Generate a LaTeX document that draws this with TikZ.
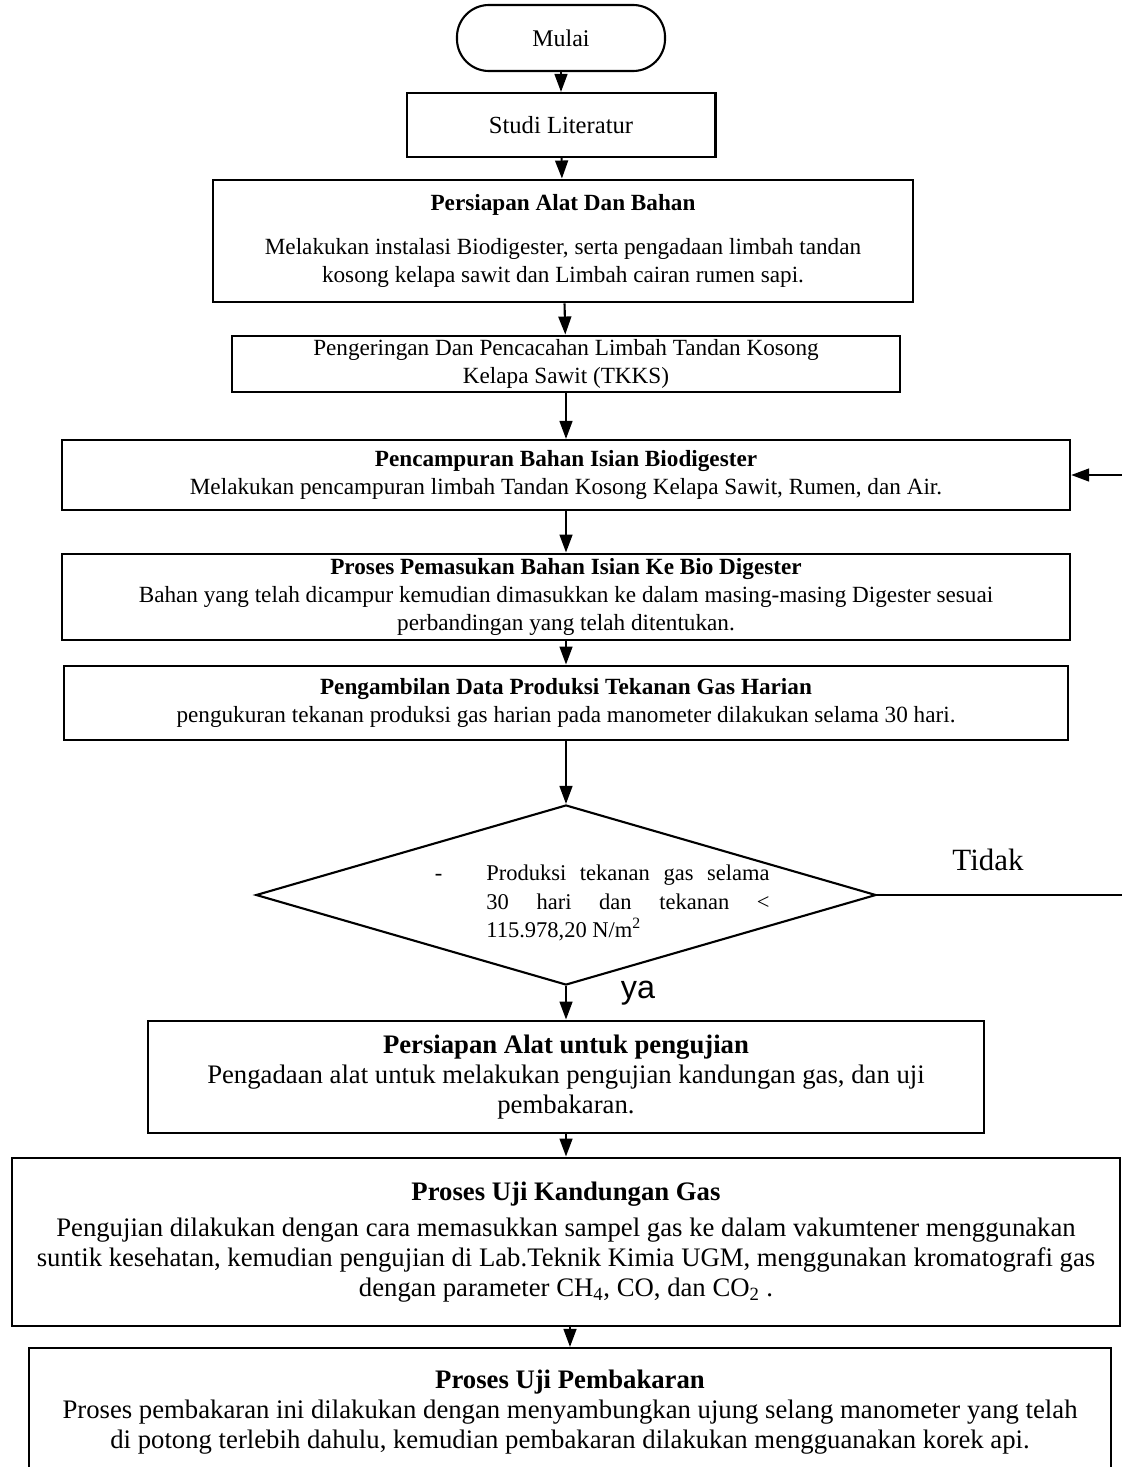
\documentclass[tikz,border=0pt]{standalone}
\usepackage{fontspec}
\setmainfont{Liberation Serif}
\newfontfamily\yafont{Liberation Sans}
\usetikzlibrary{shapes.geometric,arrows.meta,positioning}
\newcommand{\teksatas}{\fontsize{16.5}{20}\selectfont}
\newcommand{\teksbawah}{\fontsize{19}{21.5}\selectfont}
\tikzset{
   every path/.style={>={Triangle[length=4.5mm,width=3.2mm]}},
   flow/.style={->,line width=1.5pt},
   terminal/.style={draw,line width=1.5pt,rounded corners=0.8cm,font=\teksatas},
   kotak/.style={draw,line width=1.5pt,align=center,inner sep=2pt,font=\teksatas},
   kotakbesar/.style={kotak,font=\teksbawah},
   keputusan/.style={diamond,draw,line width=1.5pt,inner sep=0pt},
}

\begin{document}
\begin{tikzpicture}[x=0.025cm,y=-0.025cm]
      \useasboundingbox (0,0) rectangle (1122,1467);
      \clip (0,0) rectangle (1122,1467);

      \node[terminal, minimum width=5.2cm, minimum height=1.65cm,
        font=\fontsize{17}{20}\selectfont] (mulai)
        at (561,38) {Mulai};

      \node[kotak, minimum width=7.72cm, minimum height=1.6cm,
        font=\fontsize{17.5}{20}\selectfont] (studi)
        at (561,125) {Studi Literatur};

      \node[kotak, minimum width=17.5cm, minimum height=3.07cm] (persiapan)
        at (563,241)
        {\textbf{Persiapan Alat Dan Bahan}\\[11pt]
         Melakukan instalasi Biodigester, serta pengadaan limbah tandan\\
         kosong kelapa sawit dan Limbah cairan rumen sapi.};

      \node[kotak, minimum width=16.7cm, minimum height=1.42cm] (pengeringan)
        at (566,364)
        {Pengeringan Dan Pencacahan Limbah Tandan Kosong\\
         Kelapa Sawit (TKKS)};

      \node[kotak, minimum width=25.2cm, minimum height=1.75cm] (pencampuran)
        at (566,475)
        {\textbf{Pencampuran Bahan Isian Biodigester}\\
         Melakukan pencampuran limbah Tandan Kosong Kelapa Sawit, Rumen, dan Air.};

      \node[kotak, minimum width=25.2cm, minimum height=2.17cm] (pemasukan)
        at (566,597)
        {\textbf{Proses Pemasukan Bahan Isian Ke Bio Digester}\\
         Bahan yang telah dicampur kemudian dimasukkan ke dalam masing-masing Digester sesuai\\
         perbandingan yang telah ditentukan.};

      \node[kotak, minimum width=25.1cm, minimum height=1.87cm] (pengambilan)
        at (566,703)
        {\textbf{Pengambilan Data Produksi Tekanan Gas Harian}\\
         pengukuran tekanan produksi gas harian pada manometer dilakukan selama 30 hari.};

      % keputusan
      \node[keputusan, minimum width=15.5cm, minimum height=4.5cm] (cek)
        at (566,895) {};
      \node[text width=7.08cm, align=justify, font=\fontsize{16}{20}\selectfont] (cektext)
        at (628,903)
        {\noindent\llap{-\hspace{1.1cm}}Produksi tekanan gas selama\linebreak
         30 hari dan tekanan <\linebreak
         115.978,20 N/m\textsuperscript{2}};

      \node[font=\fontsize{22}{24}\selectfont] (tidak) at (988,860) {Tidak};
      \node[font=\yafont\fontsize{23}{24}\selectfont] (ya) at (638,993) {ya};

      \node[kotakbesar, minimum width=20.9cm, minimum height=2.82cm] (persalat)
        at (566,1077)
        {\textbf{Persiapan Alat untuk pengujian}\\
         Pengadaan alat untuk melakukan pengujian kandungan gas, dan uji\\
         pembakaran.};

      \node[kotakbesar, minimum width=27.7cm, minimum height=4.22cm] (kandungan)
        at (566,1242)
        {\textbf{Proses Uji Kandungan Gas}\\[4pt]
         Pengujian dilakukan dengan cara memasukkan sampel gas ke dalam vakumtener menggunakan\\
         suntik kesehatan, kemudian pengujian di Lab.Teknik Kimia UGM, menggunakan kromatografi gas\\
         dengan parameter CH\textsubscript{4}, CO, dan CO\textsubscript{2} .};

      \node[kotakbesar, minimum width=27.05cm, minimum height=3.2cm] (pembakaran)
        at (570,1412)
        {\textbf{Proses Uji Pembakaran}\\
         Proses pembakaran ini dilakukan dengan menyambungkan ujung selang manometer yang telah\\
         di potong terlebih dahulu, kemudian pembakaran dilakukan mengguanakan korek api.};

      \draw[flow] (mulai) -- (studi);
      \draw[flow] (studi) -- (persiapan);
      \draw[flow] (persiapan) -- (pengeringan);
      \draw[flow] (pengeringan) -- (pencampuran);
      \draw[flow] (pencampuran) -- (pemasukan);
      \draw[flow] (pemasukan) -- (pengambilan);
      \draw[flow] (pengambilan) -- (cek);
      \draw[flow] (cek) -- (persalat);
      \draw[flow] (persalat) -- (kandungan);
      \draw[flow] (kandungan.south -| pembakaran) -- (pembakaran);

      % kembali ke pencampuran
      \coordinate (balik) at (1140,895);
      \draw[flow] (cek.east) -- (balik) |- (pencampuran.east);
\end{tikzpicture}
\end{document}
